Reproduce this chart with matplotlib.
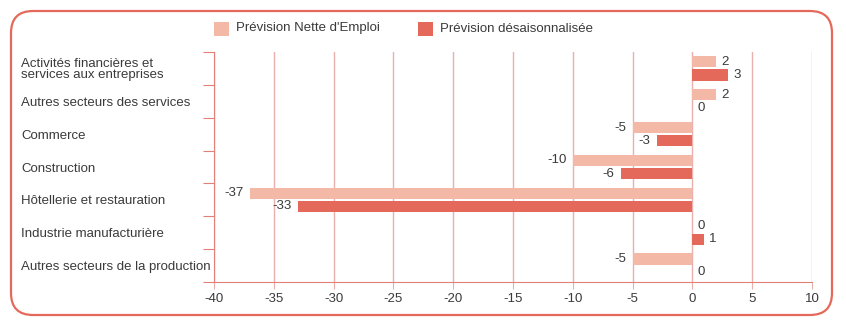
import matplotlib
matplotlib.use("Agg")
import matplotlib.pyplot as plt
from matplotlib.patches import FancyBboxPatch, Rectangle
from matplotlib.transforms import IdentityTransform
import numpy as np

plt.rcParams['font.family'] = ['Liberation Sans', 'DejaVu Sans']

categories = ["Activités financières et\nservices aux entreprises",
              "Autres secteurs des services",
              "Commerce",
              "Construction",
              "Hôtellerie et restauration",
              "Industrie manufacturière",
              "Autres secteurs de la production"]
nette = [2, 2, -5, -10, -37, 0, -5]
desais = [3, 0, -3, -6, -33, 1, 0]
xticks = [-40, -35, -30, -25, -20, -15, -10, -5, 0, 5, 10]
legend_labels = ["Prévision Nette d'Emploi", "Prévision désaisonnalisée"]

c_light = "#f4b8a6"
c_dark = "#e5695b"
c_grid = "#eab0ac"
c_axis = "#e27f77"
c_text = "#3a3a3a"

W, H = 846, 325
fig = plt.figure(figsize=(W / 100, H / 100), dpi=100)
ax = fig.add_axes([214 / W, 1 - 282 / H, (812 - 214) / W, (282 - 52) / H])

y = np.arange(len(categories))
off = 0.2
h = 0.34
ax.barh(y - off, nette, height=h, color=c_light, zorder=3)
ax.barh(y + off, desais, height=h, color=c_dark, zorder=3)

for yi, v in zip(y - off, nette):
    if v < 0:
        ax.text(v - 0.5, yi, str(v), ha='right', va='center', fontsize=9.5, color=c_text)
    else:
        ax.text(v + 0.4, yi, str(v), ha='left', va='center', fontsize=9.5, color=c_text)
for yi, v in zip(y + off, desais):
    if v < 0:
        ax.text(v - 0.5, yi, str(v), ha='right', va='center', fontsize=9.5, color=c_text)
    else:
        ax.text(v + 0.4, yi, str(v), ha='left', va='center', fontsize=9.5, color=c_text)

ax.set_xlim(-40, 10)
ax.set_ylim(len(categories) - 0.5, -0.5)
ax.set_xticks(xticks)
ax.set_xticklabels([str(t) for t in xticks], fontsize=9.5, color=c_text)
ax.xaxis.grid(True, color=c_grid, lw=1, zorder=0)
ax.tick_params(axis='x', length=5, color=c_grid, pad=3)

ax.set_yticks(y)
ax.set_yticklabels(categories, fontsize=9.5, color=c_text, ha='left', linespacing=0.95)
ax.tick_params(axis='y', which='major', length=0, pad=(214 - 21) * 0.72)
ax.set_yticks(np.arange(-0.5, len(categories)), minor=True)
ax.tick_params(axis='y', which='minor', length=8, color=c_axis, width=0.8)

for s in ['top', 'right']:
    ax.spines[s].set_visible(False)
for s in ['left', 'bottom']:
    ax.spines[s].set_color(c_axis)
    ax.spines[s].set_linewidth(0.8)
ax.set_axisbelow(True)

# Border (pixel coordinates; origin at bottom-left)
border = FancyBboxPatch((11, H - 315), 821, 304,
                        boxstyle="round,pad=0,rounding_size=22",
                        transform=IdentityTransform(), fill=False,
                        edgecolor=c_dark, lw=1.6, zorder=10)
fig.patches.append(border)

# Legend
for x0, col, lab in [(214, c_light, legend_labels[0]), (418, c_dark, legend_labels[1])]:
    fig.patches.append(Rectangle((x0, H - 36), 15, 14, transform=IdentityTransform(),
                                 facecolor=col, edgecolor='none'))
    fig.text((x0 + 22) / W, 1 - 28.5 / H, lab, fontsize=9.5, color=c_text,
             ha='left', va='center')

fig.savefig("out.png", dpi=100)
